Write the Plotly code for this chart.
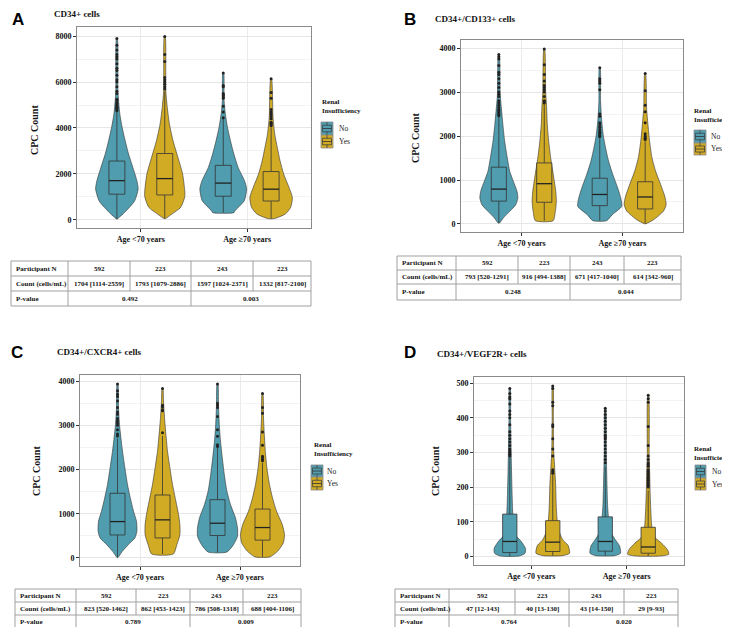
import plotly.graph_objects as go

# ---------------- DATA ----------------
age_groups = ["Age <70 years", "Age ≥70 years"]
renal = ["No", "Yes"]
panel_letters = ["A", "B", "C", "D"]
panel_titles = ["CD34+ cells", "CD34+/CD133+ cells", "CD34+/CXCR4+ cells", "CD34+/VEGF2R+ cells"]

# order of the four violins in each panel: <70 No, <70 Yes, >=70 No, >=70 Yes
A_q1 = [1114, 1079, 1024, 817]
A_median = [1704, 1793, 1597, 1332]
A_q3 = [2559, 2886, 2371, 2100]
A_low = [30, 50, 310, 50]
A_high = [4720, 5590, 4390, 4020]
A_outliers = [
    [4750, 4800, 4850, 4900, 4950, 5000, 5050, 5100, 5200, 5250, 5500, 5600, 5800, 6000, 6100, 6300, 6500, 6600, 6800, 7000, 7100, 7200, 7400, 7600, 7900],
    [5700, 5800, 5900, 6000, 6100, 6200, 6900, 7200, 7990],
    [4450, 4700, 4950, 5300, 5350, 5400, 5450, 5500, 5800, 5850, 6400],
    [4100, 4150, 4200, 4250, 4400, 4500, 4600, 4700, 4800, 5300, 5550, 6150],
]
A_levels = [
    [30, 58, 250, 540, 830, 1340, 1700, 2280, 2860, 3440, 4020, 4600, 5600, 7900],
    [50, 250, 540, 1000, 1260, 1990, 2715, 3440, 4170, 4890, 5620, 7990],
    [310, 390, 830, 1340, 1700, 2280, 2860, 3440, 4020, 4600, 5200, 6400],
    [50, 250, 540, 970, 1410, 1990, 2570, 3150, 3730, 4460, 6150],
]
A_density = [
    [0.03, 0.05, 0.29, 0.59, 0.84, 1.0, 0.94, 0.75, 0.55, 0.39, 0.25, 0.14, 0.05, 0.02],
    [0.03, 0.34, 0.75, 0.94, 0.94, 0.84, 0.62, 0.39, 0.22, 0.12, 0.05, 0.02],
    [0.5, 0.55, 0.99, 1.1, 1.0, 0.7, 0.5, 0.34, 0.2, 0.1, 0.04, 0.02],
    [0.15, 0.67, 0.92, 1.0, 0.84, 0.59, 0.42, 0.29, 0.17, 0.09, 0.02],
]
A_counts = ["1704 [1114-2559]", "1793 [1079-2886]", "1597 [1024-2371]", "1332 [817-2100]"]
A_pvalues = ["0.492", "0.003"]

B_q1 = [520, 494, 417, 342]
B_median = [793, 916, 671, 614]
B_q3 = [1291, 1388, 1040, 960]
B_low = [20, 75, 75, 5]
B_high = [2440, 2720, 1970, 1880]
B_outliers = [
    [2460, 2480, 2500, 2520, 2550, 2580, 2600, 2650, 2700, 2750, 2800, 2900, 2950, 3000, 3100, 3200, 3300, 3400, 3450, 3600, 3750, 3800, 3850],
    [2750, 2780, 2800, 2900, 3000, 3050, 3100, 3150, 3250, 3400, 3620, 3980],
    [1990, 2000, 2020, 2050, 2080, 2100, 2150, 2200, 2250, 2300, 2450, 2500, 3050, 3200, 3250, 3300, 3550],
    [1920, 1950, 1980, 2000, 2050, 2300, 2550, 2700, 3030, 3420],
]
B_levels = [
    [20, 136, 288, 440, 590, 742, 970, 1197, 1500, 1879, 2258, 2560, 2940, 3850],
    [75, 288, 515, 742, 1121, 1500, 1879, 2258, 2636, 3015, 3980],
    [75, 212, 400, 590, 818, 1121, 1424, 1727, 2030, 2333, 2800, 3550],
    [5, 98, 288, 440, 630, 894, 1197, 1500, 1879, 2258, 2636, 3420],
]
B_density = [
    [0.03, 0.22, 0.54, 0.84, 0.94, 0.9, 0.72, 0.54, 0.42, 0.29, 0.2, 0.14, 0.07, 0.02],
    [0.44, 0.55, 0.6, 0.57, 0.45, 0.32, 0.22, 0.15, 0.12, 0.07, 0.02],
    [0.34, 0.62, 1.09, 1.04, 0.89, 0.65, 0.44, 0.29, 0.17, 0.1, 0.04, 0.02],
    [0.03, 0.42, 0.9, 1.04, 0.97, 0.77, 0.52, 0.34, 0.22, 0.14, 0.07, 0.02],
]
B_counts = ["793 [520-1291]", "916 [494-1388]", "671 [417-1040]", "614 [342-960]"]
B_pvalues = ["0.248", "0.044"]

C_q1 = [520, 453, 508, 404]
C_median = [823, 862, 786, 688]
C_q3 = [1462, 1423, 1318, 1106]
C_low = [15, 90, 135, 25]
C_high = [2700, 2760, 2500, 2150]
C_outliers = [
    [2760, 2800, 2900, 3000, 3050, 3100, 3150, 3250, 3300, 3400, 3550, 3650, 3700, 3780, 3930],
    [2830, 3330, 3350, 3420, 3450, 3830],
    [2520, 2560, 2750, 2900, 3200, 3400, 3450, 3500, 3930],
    [2200, 2230, 2260, 2300, 2550, 2850, 3270, 3400, 3720],
]
C_levels = [
    [15, 150, 302, 453, 604, 830, 1057, 1358, 1660, 2038, 2415, 2717, 3020, 3400, 3930],
    [90, 302, 528, 755, 981, 1283, 1660, 2038, 2415, 2792, 3170, 3550, 3830],
    [135, 302, 490, 680, 906, 1208, 1509, 1887, 2264, 2642, 3020, 3470, 3930],
    [25, 150, 340, 528, 755, 1057, 1358, 1660, 2038, 2415, 2792, 3170, 3720],
]
C_density = [
    [0.03, 0.24, 0.54, 0.87, 0.97, 0.95, 0.8, 0.64, 0.5, 0.37, 0.25, 0.17, 0.1, 0.05, 0.02],
    [0.54, 0.72, 0.87, 0.87, 0.8, 0.67, 0.5, 0.37, 0.25, 0.17, 0.1, 0.05, 0.02],
    [0.47, 0.8, 1.0, 1.0, 0.9, 0.65, 0.47, 0.34, 0.24, 0.15, 0.09, 0.05, 0.02],
    [0.37, 0.75, 1.04, 1.1, 0.99, 0.7, 0.5, 0.35, 0.22, 0.14, 0.09, 0.05, 0.02],
]
C_counts = ["823 [520-1462]", "862 [453-1423]", "786 [508-1318]", "688 [404-1106]"]
C_pvalues = ["0.789", "0.009"]

D_q1 = [11, 14, 15, 9]
D_median = [43, 41, 43, 27]
D_q3 = [122, 103, 114, 84]
D_low = [1, 2, 2, 1]
D_high = [285, 235, 260, 190]
D_outliers = [
    [290, 295, 300, 305, 310, 320, 330, 340, 350, 360, 380, 400, 410, 420, 440, 455, 460, 470, 485],
    [240, 245, 250, 290, 310, 340, 375, 380, 435, 445, 485, 492],
    [270, 280, 290, 300, 310, 320, 330, 340, 345, 350, 360, 370, 380, 390, 400, 410, 420, 428],
    [200, 205, 210, 215, 220, 225, 230, 235, 240, 245, 250, 260, 265, 270, 280, 290, 320, 375, 445, 455, 465],
]
D_levels = [
    [1, 9, 23, 43, 58, 73, 100, 131, 180, 250, 305, 400, 485],
    [2, 9, 32, 46, 62, 82, 111, 150, 208, 266, 305, 400, 492],
    [2, 9, 30, 50, 65, 82, 111, 150, 208, 256, 305, 428],
    [1, 6, 20, 38, 52, 65, 90, 140, 188, 237, 285, 465],
]
D_density = [
    [0.5, 0.8, 0.82, 0.6, 0.35, 0.25, 0.18, 0.15, 0.12, 0.09, 0.07, 0.04, 0.02],
    [0.5, 0.88, 0.8, 0.55, 0.4, 0.3, 0.22, 0.18, 0.15, 0.09, 0.05, 0.03, 0.02],
    [0.5, 0.8, 0.75, 0.5, 0.34, 0.25, 0.17, 0.12, 0.09, 0.07, 0.05, 0.02],
    [0.65, 1.08, 1.0, 0.7, 0.4, 0.25, 0.18, 0.13, 0.1, 0.08, 0.05, 0.02],
]
D_counts = ["47 [12-143]", "40 [13-130]", "43 [14-150]", "29 [9-93]"]
D_pvalues = ["0.764", "0.020"]

participant_n = ["592", "223", "243", "223"]
row_labels = ["Participant N", "Count (cells/mL)", "P-value"]
legend_title_lines = ["Renal", "Insufficiency"]

# ---------------- STYLE / LAYOUT ----------------
W, H = 730, 627
COL = {"No": "#4F9DAE", "Yes": "#D2AB24"}
EDGE = "#333333"
SERIF = "Liberation Serif"
SANS = "Liberation Sans"
VSCALE = 0.2   # x-units per density unit
DODGE = 0.225
BOXW = 0.15


def px(x):
    return x / W


def py(y):
    return 1 - y / H


panels = [
    dict(q1=A_q1, med=A_median, q3=A_q3, lo=A_low, hi=A_high, out=A_outliers, lev=A_levels, den=A_density,
         counts=A_counts, pv=A_pvalues,
         dom=(69, 303, 19, 220), yr=[-360, 8400], dt=2000,
         letter=(10, 11), title=(45, 6), ytitle=(27, 122),
         leg_title=(313, 99), key_x=(313, 325), key_y=(114, 127, 140), key_text_x=330),
    dict(q1=B_q1, med=B_median, q3=B_q3, lo=B_low, hi=B_high, out=B_outliers, lev=B_levels, den=B_density,
         counts=B_counts, pv=B_pvalues,
         dom=(453, 675, 32, 224), yr=[-182, 4182], dt=1000,
         letter=(402, 12), title=(426, 11), ytitle=(407, 130),
         leg_title=(685, 108), key_x=(686, 698), key_y=(122, 135, 147), key_text_x=702),
    dict(q1=C_q1, med=C_median, q3=C_q3, lo=C_low, hi=C_high, out=C_outliers, lev=C_levels, den=C_density,
         counts=C_counts, pv=C_pvalues,
         dom=(72, 292, 367, 558), yr=[-181, 4136], dt=1000,
         letter=(9, 344), title=(48, 344), ytitle=(28, 463),
         leg_title=(305, 442), key_x=(303, 315), key_y=(457, 469, 482), key_text_x=318),
    dict(q1=D_q1, med=D_median, q3=D_q3, lo=D_low, hi=D_high, out=D_outliers, lev=D_levels, den=D_density,
         counts=D_counts, pv=D_pvalues,
         dom=(466, 676, 369, 557), yr=[-25, 518], dt=100,
         letter=(402, 344), title=(428, 346), ytitle=(427, 463),
         leg_title=(685, 446), key_x=(687, 698), key_y=(457, 470, 482), key_text_x=703),
]
table_cols = [[3, 60, 122, 183, 245, 303], [389, 448, 510, 562, 616, 673],
              [7, 68, 128, 182, 235, 293], [387, 441, 507, 561, 616, 670]]
table_rows = [[253, 268, 283, 298], [248, 262, 276, 292], [581, 594, 607, 620], [581, 594, 607, 620]]

fig = go.Figure()
annotations = []
shapes = []
layout_extra = {}


def ann(text, x, y, size, family=SERIF, weight="bold", xanchor="center", angle=0, color="#111111"):
    annotations.append(dict(text=text, x=px(x), y=py(y), xref="paper", yref="paper", showarrow=False,
                            xanchor=xanchor, yanchor="middle", textangle=angle, borderpad=0,
                            font=dict(family=family, size=size, color=color, weight=weight)))


def line(x0, y0, x1, y1, color, width=1):
    shapes.append(dict(type="line", xref="paper", yref="paper", x0=px(x0), x1=px(x1),
                       y0=py(y0), y1=py(y1), line=dict(color=color, width=width)))


for i, p in enumerate(panels):
    k = "" if i == 0 else str(i + 1)
    xa, ya = "x" + k, "y" + k
    centers = [1 - DODGE, 1 + DODGE, 2 - DODGE, 2 + DODGE]
    for j in range(4):
        grp = renal[j % 2]
        c = centers[j]
        lev, den = p["lev"][j], p["den"][j]
        # violin outline from density profile
        xr = [c + d * VSCALE for d in den]
        xl = [c - d * VSCALE for d in den][::-1]
        fig.add_trace(go.Scatter(x=xr + xl + [xr[0]], y=lev + lev[::-1] + [lev[0]],
                                 mode="lines", fill="toself", fillcolor=COL[grp],
                                 line=dict(color=EDGE, width=0.6, shape="spline", smoothing=0.6),
                                 showlegend=False, hoverinfo="skip", xaxis=xa, yaxis=ya))
        # box plot (drawn on top of the violin)
        q1, md, q3, lo, hi = p["q1"][j], p["med"][j], p["q3"][j], p["lo"][j], p["hi"][j]
        bl, br = c - BOXW / 2, c + BOXW / 2
        fig.add_trace(go.Scatter(x=[c, c, None, c, c], y=[lo, q1, None, q3, hi], mode="lines",
                                 line=dict(color=EDGE, width=0.8), showlegend=False,
                                 hoverinfo="skip", xaxis=xa, yaxis=ya))
        fig.add_trace(go.Scatter(x=[bl, br, br, bl, bl], y=[q1, q1, q3, q3, q1], mode="lines",
                                 fill="toself", fillcolor=COL[grp],
                                 line=dict(color=EDGE, width=0.8), showlegend=False,
                                 hoverinfo="skip", xaxis=xa, yaxis=ya))
        fig.add_trace(go.Scatter(x=[bl, br], y=[md, md], mode="lines",
                                 line=dict(color="#222222", width=1.3), showlegend=False,
                                 hoverinfo="skip", xaxis=xa, yaxis=ya))
        outs = p["out"][j]
        fig.add_trace(go.Scatter(x=[c] * len(outs), y=outs, mode="markers",
                                 marker=dict(size=3, color="#222222"), showlegend=False,
                                 hoverinfo="skip", xaxis=xa, yaxis=ya))

    x0, x1, y0, y1 = p["dom"]
    axkw = dict(showline=True, mirror=True, linecolor="#8a8a8a", linewidth=1,
                ticks="outside", ticklen=3, tickcolor="#333333", zeroline=False,
                tickfont=dict(family=SERIF, size=8, color="#111111", weight="bold"))
    layout_extra["xaxis" + k] = dict(domain=[px(x0), px(x1)], range=[0.4, 2.6], anchor=ya,
                                     tickvals=[1, 2], ticktext=age_groups, showgrid=True,
                                     gridcolor="#ebebeb", gridwidth=1, **axkw)
    layout_extra["yaxis" + k] = dict(domain=[py(y1), py(y0)], range=p["yr"], anchor=xa,
                                     dtick=p["dt"], tick0=0, showgrid=True, gridcolor="#e6e6e6",
                                     minor=dict(dtick=p["dt"] / 2, showgrid=True, gridcolor="#f3f3f3", ticks=""),
                                     **axkw)

    # panel letter, title, y title
    ann(panel_letters[i], p["letter"][0], p["letter"][1], 17, family=SANS, color="#000000")
    ann(panel_titles[i], p["title"][0], p["title"][1], 9, xanchor="left")
    ann("CPC Count", p["ytitle"][0], p["ytitle"][1], 10, angle=-90)

    # legend drawn by hand (ggplot-like keys)
    lt = p["leg_title"]
    ann(legend_title_lines[0], lt[0], lt[1] - 5, 7, xanchor="left")
    ann(legend_title_lines[1], lt[0], lt[1] + 4, 7, xanchor="left")
    kx0, kx1 = p["key_x"]
    ky = p["key_y"]
    for g in range(2):
        ya0, ya1 = ky[g], ky[g + 1]
        hgt = ya1 - ya0
        shapes.append(dict(type="rect", xref="paper", yref="paper", x0=px(kx0), x1=px(kx1),
                           y0=py(ya1), y1=py(ya0), fillcolor=COL[renal[g]],
                           line=dict(color="#8a8a8a", width=0.8)))
        shapes.append(dict(type="rect", xref="paper", yref="paper", x0=px(kx0 + 1.5), x1=px(kx1 - 1.5),
                           y0=py(ya1 - hgt * 0.25), y1=py(ya0 + hgt * 0.25), fillcolor="rgba(0,0,0,0)",
                           line=dict(color="#444444", width=0.8)))
        line(kx0 + 1.5, ya0 + hgt / 2, kx1 - 1.5, ya0 + hgt / 2, "#333333", 0.8)
        cx = (kx0 + kx1) / 2
        line(cx, ya0, cx, ya0 + hgt * 0.25, "#444444", 0.8)
        line(cx, ya1 - hgt * 0.25, cx, ya1, "#444444", 0.8)
        ann(renal[g], p["key_text_x"], ya0 + hgt / 2, 7.5, weight="normal", xanchor="left", color="#222222")

    # table
    tc, tr = table_cols[i], table_rows[i]
    lc = "#a0a0a0"
    for yy in tr:
        line(tc[0], yy, tc[-1], yy, lc)
    for ci, xx in enumerate(tc):
        yend = tr[3] if ci in (0, 1, 3, 5) else tr[2]
        line(xx, tr[0], xx, yend, lc)
    for r in range(3):
        ann(row_labels[r], tc[0] + 4, (tr[r] + tr[r + 1]) / 2, 7, xanchor="left")
    for cidx in range(4):
        xm = (tc[cidx + 1] + tc[cidx + 2]) / 2
        ann(participant_n[cidx], xm, (tr[0] + tr[1]) / 2, 7)
        ann(p["counts"][cidx], xm, (tr[1] + tr[2]) / 2, 7)
    for g in range(2):
        xm = (tc[1 + 2 * g] + tc[3 + 2 * g]) / 2
        ann(p["pv"][g], xm, (tr[2] + tr[3]) / 2, 7)

fig.update_layout(width=W, height=H, margin=dict(l=0, r=0, t=0, b=0),
                  paper_bgcolor="white", plot_bgcolor="white", showlegend=False,
                  annotations=annotations, shapes=shapes, **layout_extra)

fig.write_html("out.html")
